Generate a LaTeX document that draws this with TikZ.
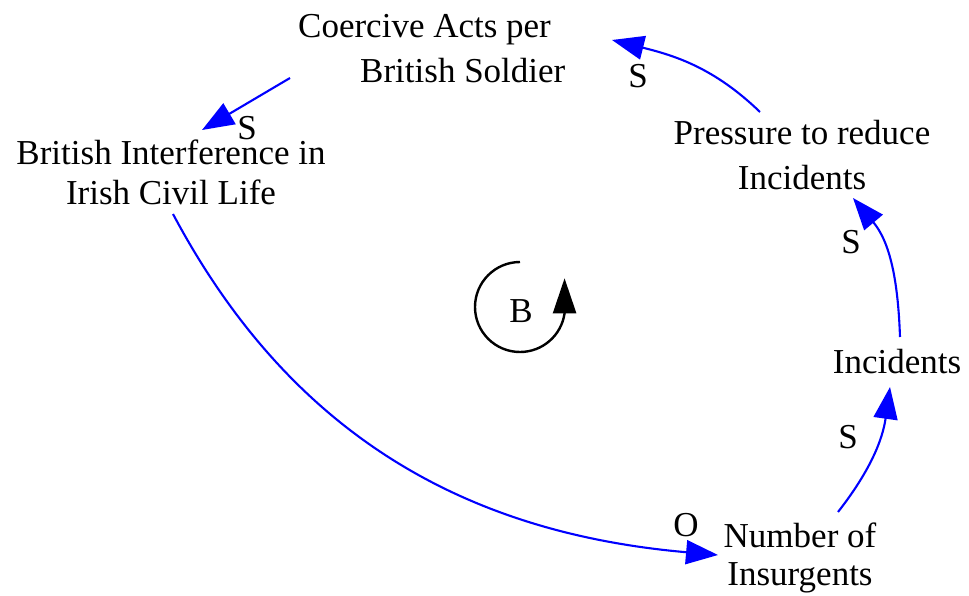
\documentclass[tikz,border=0pt]{standalone}
\usepackage{fontspec}
\setmainfont{Liberation Serif}
\usetikzlibrary{arrows.meta}
\begin{document}
\begin{tikzpicture}[x=1pt,y=1pt,
  lbl/.style={font=\fontsize{35}{44}\selectfont, inner sep=0pt},
  pol/.style={font=\fontsize{35}{44}\selectfont, inner sep=0pt},
  link/.style={draw=blue, line width=2.1pt, -{Triangle[length=32pt,width=24pt]}},
  loopline/.style={draw=black, line width=2.4pt, -{Triangle[length=35pt,width=23pt]}}]
\useasboundingbox (0,0) rectangle (969,-596);
% variables (base anchor = baseline of the last line)
\node[lbl, align=left, anchor=base west] (coercive) at (298,-83) {Coercive Acts per\\[1pt]\hspace*{62pt}British Soldier};
\node[lbl, align=center, anchor=base] (brit) at (171,-205) {British Interference in\\[-4pt]Irish Civil Life};
\node[lbl, align=center, anchor=base] (press) at (802,-190) {Pressure to reduce\\[1pt]Incidents};
\node[lbl, anchor=base] (incid) at (897,-373) {Incidents};
\node[lbl, align=center, anchor=base] (num) at (800,-585) {Number of\\[-6pt]Insurgents};
% polarities
\node[pol] (s1) at (247,-128) {S};
\node[pol] (s2) at (638,-76) {S};
\node[pol] (s3) at (851,-242) {S};
\node[pol] (s4) at (848,-437) {S};
\node[pol] (o1) at (686,-525) {O};
\node[pol] (bsym) at (521,-311) {B};
% links
\draw[link] ([shift={(-8,5)}]coercive.base west) -- ([shift={(31,75)}]brit.base);
\draw[link] ([shift={(2,-9)}]brit.base) to[out=-62,in=175] ([shift={(-82,30)}]num.base);
\draw[link] ([shift={(38,73)}]num.base) to[out=52,in=-98] ([shift={(-7,-14)}]incid.base);
\draw[link] ([shift={(3,36)}]incid.base) to[out=92,in=-50] ([shift={(51,-8)}]press.base);
\draw[link] ([shift={(-42,78)}]press.base) to[out=136,in=-14] ([shift={(314,43)}]coercive.base west);
% loop symbol
\draw[loopline] ([shift={(-1,49)}]bsym.center) arc[start angle=90,end angle=352,radius=45] -- ++(0,35);
\end{tikzpicture}
\end{document}
